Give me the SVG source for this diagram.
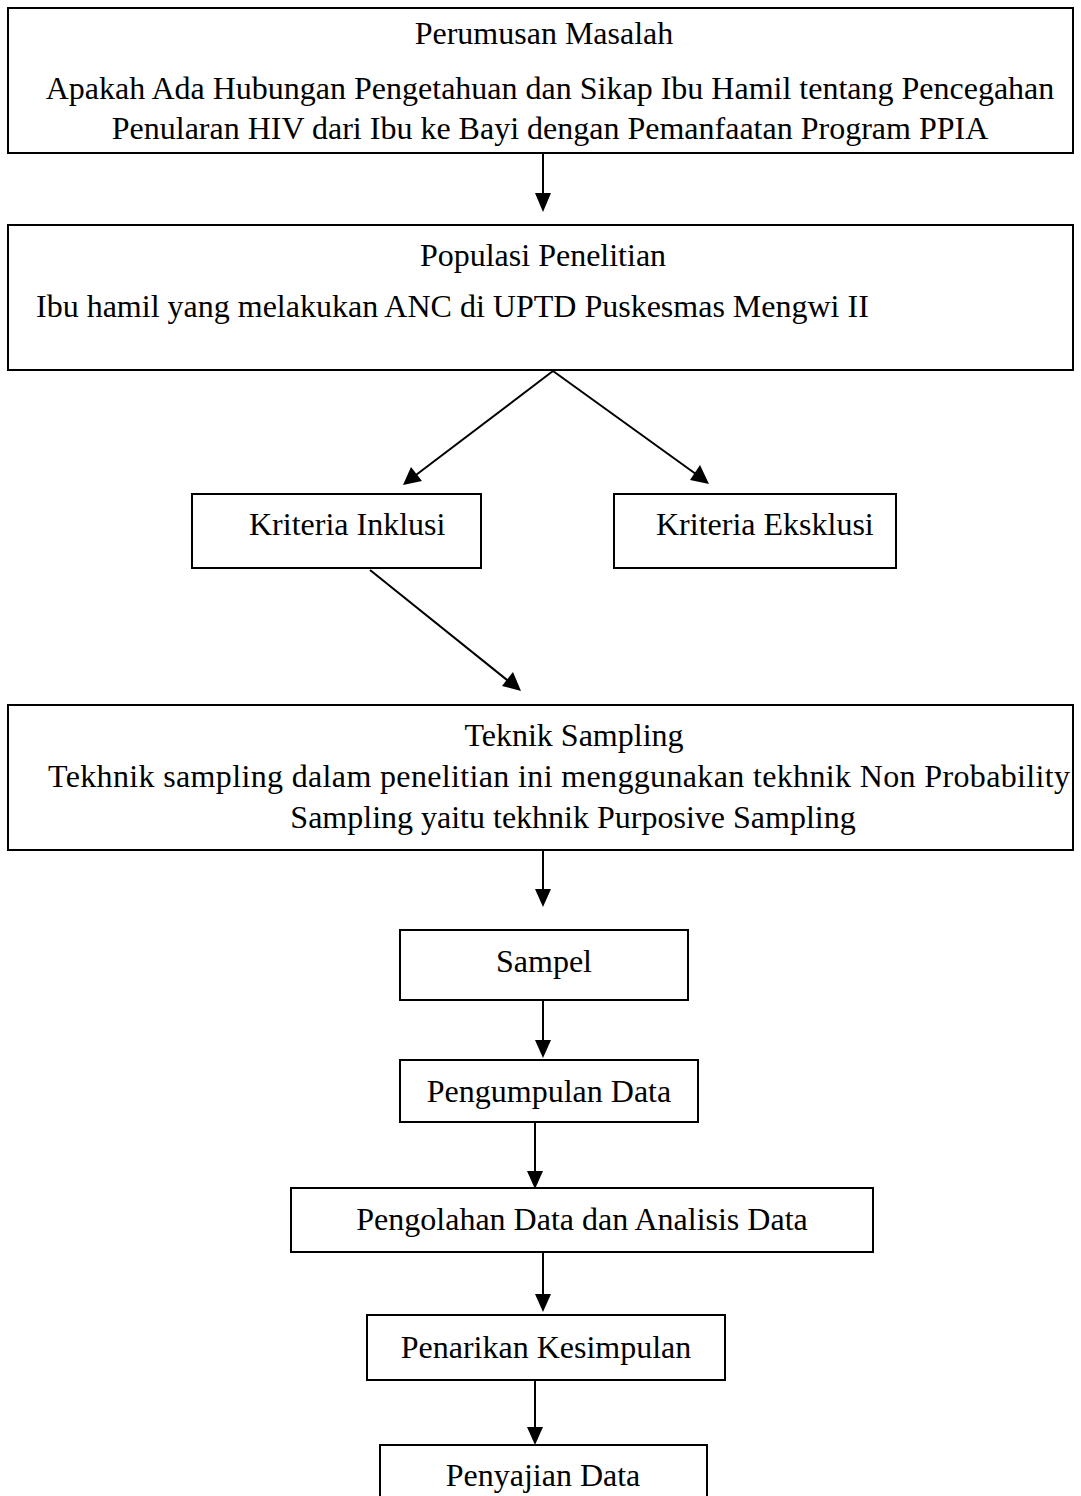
<svg xmlns="http://www.w3.org/2000/svg" width="1081" height="1496" viewBox="0 0 1081 1496">
<style>
.box{fill:#fff;stroke:#000;stroke-width:2}
.t{font-family:"Liberation Serif","Times New Roman",serif;font-size:32px;fill:#000}
.c{text-anchor:middle}
.ln{stroke:#000;stroke-width:2}
</style>
<rect width="1081" height="1496" fill="#fff"/>
<g id="connectors">
<line class="ln" x1="543" y1="153" x2="543" y2="200"/>
<path d="M535,193 L551,193 L543,212 z"/>
<line class="ln" x1="553" y1="371" x2="412" y2="478"/>
<path d="M403,485 L411,467 L422,481 z"/>
<line class="ln" x1="553" y1="371" x2="700" y2="477"/>
<path d="M709,484 L690,480 L700,465 z"/>
<line class="ln" x1="370" y1="570" x2="512" y2="684"/>
<path d="M521,691 L502,686 L513,672 z"/>
<line class="ln" x1="543" y1="850" x2="543" y2="895"/>
<path d="M535,889 L551,889 L543,907 z"/>
<line class="ln" x1="543" y1="1000" x2="543" y2="1045"/>
<path d="M535,1040 L551,1040 L543,1058 z"/>
<line class="ln" x1="535" y1="1122" x2="535" y2="1178"/>
<path d="M527,1171 L543,1171 L535,1189 z"/>
<line class="ln" x1="543" y1="1252" x2="543" y2="1300"/>
<path d="M535,1294 L551,1294 L543,1312 z"/>
<line class="ln" x1="535" y1="1380" x2="535" y2="1432"/>
<path d="M527,1427 L543,1427 L535,1445 z"/>
</g>
<g id="n1">
<rect class="box" x="8" y="8" width="1065" height="145"/>
<text class="t c" x="544" y="44">Perumusan Masalah</text>
<text class="t c" x="550" y="99">Apakah Ada Hubungan Pengetahuan dan Sikap Ibu Hamil tentang Pencegahan</text>
<text class="t c" x="550" y="139">Penularan HIV dari Ibu ke Bayi dengan Pemanfaatan Program PPIA</text>
</g>
<g id="n2">
<rect class="box" x="8" y="225" width="1065" height="145"/>
<text class="t c" x="543" y="266">Populasi Penelitian</text>
<text class="t" x="36" y="317">Ibu hamil yang melakukan ANC di UPTD Puskesmas Mengwi II</text>
</g>
<g id="n3">
<rect class="box" x="192" y="494" width="289" height="74"/>
<text class="t" x="249" y="535">Kriteria Inklusi</text>
</g>
<g id="n4">
<rect class="box" x="614" y="494" width="282" height="74"/>
<text class="t" x="656" y="535">Kriteria Eksklusi</text>
</g>
<g id="n5">
<rect class="box" x="8" y="705" width="1065" height="145"/>
<text class="t c" x="574" y="746">Teknik Sampling</text>
<text class="t" x="48" y="787" textLength="1022" lengthAdjust="spacing">Tekhnik sampling dalam penelitian ini menggunakan tekhnik Non Probability</text>
<text class="t c" x="573" y="828">Sampling yaitu tekhnik Purposive Sampling</text>
</g>
<g id="n6">
<rect class="box" x="400" y="930" width="288" height="70"/>
<text class="t c" x="544" y="972">Sampel</text>
</g>
<g id="n7">
<rect class="box" x="400" y="1060" width="298" height="62"/>
<text class="t c" x="549" y="1102">Pengumpulan Data</text>
</g>
<g id="n8">
<rect class="box" x="291" y="1188" width="582" height="64"/>
<text class="t c" x="582" y="1230">Pengolahan Data dan Analisis Data</text>
</g>
<g id="n9">
<rect class="box" x="367" y="1315" width="358" height="65"/>
<text class="t c" x="546" y="1358">Penarikan Kesimpulan</text>
</g>
<g id="n10">
<rect class="box" x="380" y="1445" width="327" height="60"/>
<text class="t c" x="543" y="1486">Penyajian Data</text>
</g>
</svg>
